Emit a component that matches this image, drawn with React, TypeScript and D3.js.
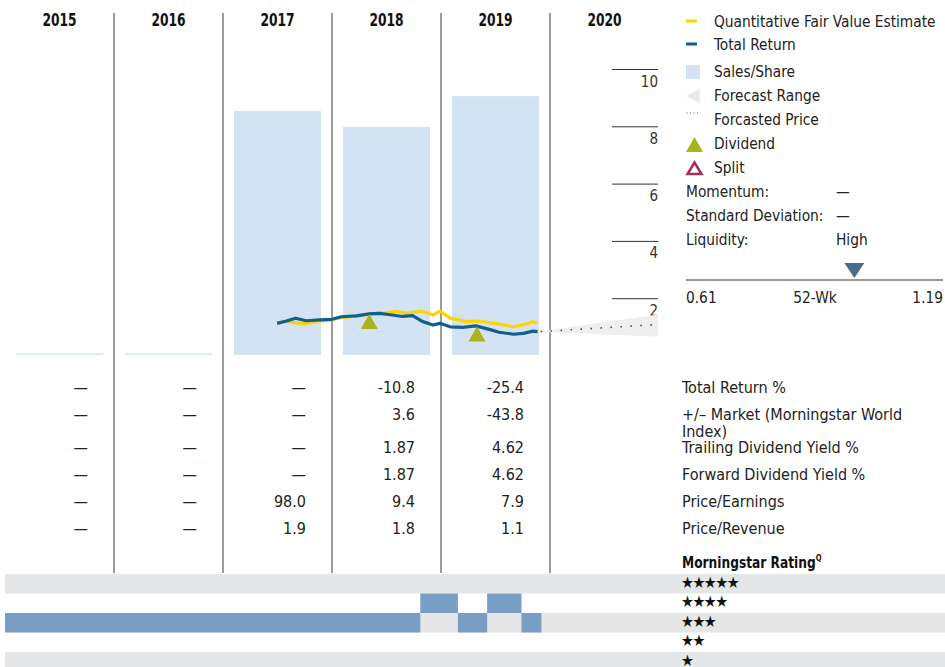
import React from 'react';
import * as d3 from 'd3';

const years = ['2015', '2016', '2017', '2018', '2019', '2020'];
const salesPerShare = [0, 0, 8.55, 8.0, 9.07];

const totalReturn: [string, number][] = [
  ['2017-07-01', 1.14], ['2017-08-01', 1.22], ['2017-09-01', 1.32], ['2017-10-07', 1.23],
  ['2017-11-20', 1.26], ['2018-01-01', 1.28], ['2018-02-01', 1.37], ['2018-03-22', 1.4],
  ['2018-05-06', 1.47], ['2018-06-09', 1.49], ['2018-07-22', 1.43], ['2018-08-25', 1.38],
  ['2018-09-28', 1.41], ['2018-11-01', 1.2], ['2018-12-06', 1.08], ['2018-12-28', 1.14],
  ['2019-02-01', 1.02], ['2019-03-15', 1.0], ['2019-04-28', 1.05], ['2019-06-12', 0.93],
  ['2019-07-15', 0.83], ['2019-09-01', 0.76], ['2019-10-04', 0.79], ['2019-11-06', 0.87],
  ['2019-11-21', 0.85],
];

const fairValue: [string, number][] = [
  ['2017-07-01', 1.16], ['2017-08-03', 1.2], ['2017-10-01', 1.12], ['2017-11-03', 1.19],
  ['2018-01-01', 1.28], ['2018-02-08', 1.35], ['2018-04-05', 1.4], ['2018-05-06', 1.47],
  ['2018-07-01', 1.51], ['2018-08-04', 1.56], ['2018-09-06', 1.49], ['2018-10-27', 1.57],
  ['2018-12-06', 1.43], ['2018-12-28', 1.57], ['2019-02-01', 1.32], ['2019-03-28', 1.2],
  ['2019-05-12', 1.22], ['2019-06-12', 1.16], ['2019-07-15', 1.11], ['2019-09-01', 1.02],
  ['2019-10-15', 1.12], ['2019-11-06', 1.2], ['2019-11-18', 1.14],
];

const dividends: [string, number][] = [['2018-05-06', 1.47], ['2019-05-02', 1.03]];

const forecastStart: [string, number] = ['2019-11-21', 0.85];
const forecastEnd = '2020-12-28';
const forecastHigh = 1.45;
const forecastLow = 0.67;
const forecastPrice = 1.1;

const priceTicks = [2, 4, 6, 8, 10];

const rowLabels = [
  'Total Return %',
  '+/– Market (Morningstar World',
  'Trailing Dividend Yield %',
  'Forward Dividend Yield %',
  'Price/Earnings',
  'Price/Revenue',
];
const totalReturnPct = ['—', '—', '—', '-10.8', '-25.4'];
const marketExcess = ['—', '—', '—', '3.6', '-43.8'];
const trailingYield = ['—', '—', '—', '1.87', '4.62'];
const forwardYield = ['—', '—', '—', '1.87', '4.62'];
const priceEarnings = ['—', '—', '98.0', '9.4', '7.9'];
const priceRevenue = ['—', '—', '1.9', '1.8', '1.1'];
const tableRows = [totalReturnPct, marketExcess, trailingYield, forwardYield, priceEarnings, priceRevenue];

const ratingLevels = [5, 4, 3, 2, 1];
const ratingStarts = ['2015-01-01', '2018-10-24', '2019-02-27', '2019-06-05', '2019-09-28'];
const ratingEnds = ['2018-10-24', '2019-02-27', '2019-06-05', '2019-09-28', '2019-12-04'];
const ratingValues = [3, 4, 3, 4, 3];

const FONT = "'Liberation Sans Narrow', 'DejaVu Sans Condensed', 'Arial Narrow', sans-serif";
const YELLOW = '#fbd500';
const BLUE = '#135e8e';
const OLIVE = '#a8b41c';
const SALES = '#d3e3f3';
const GRAYBAND = '#e5e6e7';
const RATEBLUE = '#789ec5';
const TEXT = '#222';

export default function App() {
  const parse = (s: string) => new Date(s + 'T00:00:00');
  const x = d3.scaleTime().domain([new Date(2015, 0, 1), new Date(2021, 0, 1)]).range([5, 659]);
  const col = d3.scaleBand<string>().domain(years).range([5, 659]);
  const y = d3.scaleLinear().domain([0, 10]).range([356, 69.5]);

  const line = d3.line<[string, number]>().x(d => x(parse(d[0]))).y(d => y(d[1])).curve(d3.curveLinear);

  const fx0 = x(parse(forecastStart[0]));
  const fy0 = y(forecastStart[1]);
  const fx1 = x(parse(forecastEnd));
  const forecastPoly = `M${fx0},${fy0} L${fx1},${y(forecastHigh)} L${fx1},${y(forecastLow)} Z`;

  const rowY = (i: number) => 387 + i * 27 + (i >= 2 ? 6 : 0);
  const rateBand = d3.scaleBand<number>().domain(ratingLevels).range([574, 574 + 5 * 19.5]);

  const tri = (cx: number, top: number, w: number, h: number) =>
    `M${cx},${top} L${cx + w / 2},${top + h} L${cx - w / 2},${top + h} Z`;

  const w52 = d3.scaleLinear().domain([0.61, 1.19]).range([686, 943]);
  const LF = 15.3;

  return (
    <div style={{ position: 'absolute', left: 0, top: 0 }}>
      <svg width={945} height={667} style={{ display: 'block', fontFamily: FONT }}>
        {/* rating bands */}
        {ratingLevels.map((lv, i) =>
          i % 2 === 0 ? (
            <rect key={'b' + lv} x={5} y={rateBand(lv)} width={940} height={rateBand.bandwidth()} fill={GRAYBAND} />
          ) : null
        )}
        {ratingValues.map((v, i) => (
          <rect
            key={'r' + i}
            x={x(parse(ratingStarts[i]))}
            y={rateBand(v)}
            width={x(parse(ratingEnds[i])) - x(parse(ratingStarts[i]))}
            height={rateBand.bandwidth()}
            fill={RATEBLUE}
          />
        ))}
        {ratingLevels.map(lv => (
          <text key={'s' + lv} x={681} y={(rateBand(lv) as number) + rateBand.bandwidth() / 2 + 4} fontSize={16} fill="#111" letterSpacing={-1.5}>
            {'★'.repeat(lv)}
          </text>
        ))}
        <g transform="translate(682,568) scale(0.85,1)">
          <text x={0} y={0} fontSize={16} fontWeight="bold" fill="#111">
            Morningstar Rating
            <tspan dy={-7} fontSize={9}>Q</tspan>
          </text>
        </g>

        {/* sales bars */}
        {salesPerShare.map((v, i) => {
          const bx = (col(years[i]) as number) + 11;
          const top = y(v);
          const h = Math.max(1.5, y(0) - 1 - top);
          return <rect key={'sb' + i} x={bx} y={Math.min(top, y(0) - 2.5)} width={87} height={h} fill={SALES} />;
        })}

        {/* column dividers */}
        {years.slice(1).map(yr => (
          <line key={'d' + yr} x1={col(yr)} x2={col(yr)} y1={13} y2={573} stroke="#7a7a7a" strokeWidth={1.5} />
        ))}

        {/* years */}
        {years.map(yr => (
          <g key={'y' + yr} transform={`translate(${(col(yr) as number) + col.bandwidth() / 2},26) scale(0.78,1)`}>
            <text x={0} y={0} textAnchor="middle" fontSize={17.5} fontWeight="bold" fill="#111">
              {yr}
            </text>
          </g>
        ))}

        {/* price axis */}
        {priceTicks.map(t => (
          <g key={'t' + t}>
            <line x1={612} x2={658} y1={y(t)} y2={y(t)} stroke="#333" strokeWidth={1} />
            <text x={658} y={y(t) + 17} textAnchor="end" fontSize={15} fill="#333">{t}</text>
          </g>
        ))}

        {/* forecast */}
        <path d={forecastPoly} fill="#efefef" />
        <line x1={fx0 + 3} y1={fy0} x2={fx1} y2={y(forecastPrice)} stroke="#444" strokeWidth={1.6} strokeDasharray="1.5 8.5" />

        {/* lines */}
        <path d={line(fairValue) || ''} fill="none" stroke={YELLOW} strokeWidth={3.2} strokeLinejoin="round" />
        <path d={line(totalReturn) || ''} fill="none" stroke={BLUE} strokeWidth={3.2} strokeLinejoin="round" />

        {/* dividends */}
        {dividends.map((d, i) => (
          <path key={'dv' + i} d={tri(x(parse(d[0])), y(d[1]), 17, 15)} fill={OLIVE} />
        ))}

        {/* legend */}
        <line x1={686} x2={697} y1={21} y2={21} stroke={YELLOW} strokeWidth={3} />
        <text x={714} y={27} fontSize={LF} fill={TEXT}>Quantitative Fair Value Estimate</text>
        <line x1={686} x2={697} y1={44} y2={44} stroke={BLUE} strokeWidth={3} />
        <text x={714} y={50} fontSize={LF} fill={TEXT}>Total Return</text>
        <rect x={686} y={65} width={14} height={14} fill={SALES} />
        <text x={714} y={77} fontSize={LF} fill={TEXT}>Sales/Share</text>
        <path d="M686,96 L700,89 L700,103 Z" fill="#e8e9ea" />
        <text x={714} y={101} fontSize={LF} fill={TEXT}>Forecast Range</text>
        <line x1={686.5} x2={699} y1={113} y2={113} stroke="#555" strokeWidth={1} strokeDasharray="1 2.5" />
        <text x={714} y={125} fontSize={LF} fill={TEXT}>Forcasted Price</text>
        <path d={tri(694.5, 137, 17, 15)} fill={OLIVE} />
        <text x={714} y={149} fontSize={LF} fill={TEXT}>Dividend</text>
        <path d={tri(694.5, 162.5, 14, 11.5)} fill="none" stroke="#a3305f" strokeWidth={2.5} />
        <text x={714} y={173} fontSize={LF} fill={TEXT}>Split</text>
        <text x={686} y={197} fontSize={LF} fill={TEXT}>Momentum:</text>
        <text x={836} y={197} fontSize={LF} fill={TEXT}>—</text>
        <text x={686} y={221} fontSize={LF} fill={TEXT}>Standard Deviation:</text>
        <text x={836} y={221} fontSize={LF} fill={TEXT}>—</text>
        <text x={686} y={245} fontSize={LF} fill={TEXT}>Liquidity:</text>
        <text x={836} y={245} fontSize={LF} fill={TEXT}>High</text>

        {/* 52 week */}
        <line x1={686} x2={943} y1={280} y2={280} stroke="#333" strokeWidth={1.2} />
        <path d={`M${w52(0.99) - 10},263 L${w52(0.99) + 10},263 L${w52(0.99)},278 Z`} fill="#4a6d8c" />
        <text x={686} y={303} fontSize={LF} fill={TEXT}>0.61</text>
        <text x={815} y={303} fontSize={LF} fill={TEXT} textAnchor="middle">52-Wk</text>
        <text x={943} y={303} fontSize={LF} fill={TEXT} textAnchor="end">1.19</text>

        {/* table */}
        {tableRows.map((row, ri) =>
          row.map((v, ci) => (
            <text
              key={'c' + ri + '-' + ci}
              x={(col(years[ci]) as number) + col.bandwidth() - 26}
              y={rowY(ri) + 6}
              textAnchor="end"
              fontSize={16}
              fill={TEXT}
            >
              {v}
            </text>
          ))
        )}
        {rowLabels.map((lab, ri) => (
          <text key={'l' + ri} x={682} y={rowY(ri) + 6} fontSize={16} fill={TEXT}>{lab}</text>
        ))}
        <text x={682} y={rowY(1) + 23} fontSize={16} fill={TEXT}>Index)</text>
      </svg>
    </div>
  );
}
